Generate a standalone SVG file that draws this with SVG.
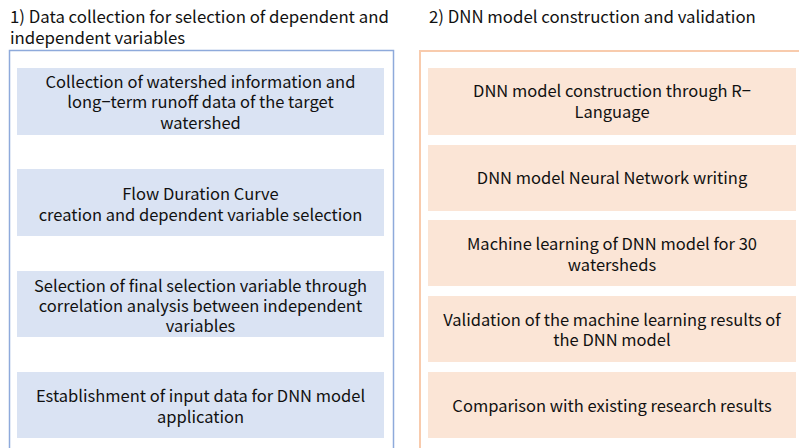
<svg xmlns="http://www.w3.org/2000/svg" width="799" height="448" viewBox="0 0 799 448">
  <style>
    text { font-family: "Noto Sans CJK KR", "Noto Sans", sans-serif; fill: #111; }
    .title { font-size: 16.8px; }
    .lbl { font-size: 16.5px; text-anchor: middle; }
    .frameL { fill: #fff; stroke: #8eaadb; stroke-width: 1.5; }
    .frameR { fill: #fff; stroke: #f8cbad; stroke-width: 2; }
    .boxL { fill: #dae3f3; }
    .boxR { fill: #fbe5d6; }
  </style>
  <rect width="799" height="448" fill="#fff"/>

  <!-- section headings -->
  <text class="title" x="10" y="23">1) Data collection for selection of dependent and</text>
  <text class="title" x="10" y="43.5">independent variables</text>
  <text class="title" x="429" y="23">2) DNN model construction and validation</text>

  <!-- section frames -->
  <rect class="frameL" x="9.5" y="50.5" width="384" height="410"/>
  <rect class="frameR" x="420" y="51" width="400" height="410"/>

  <!-- left column -->
  <g id="collect">
    <rect class="boxL" x="17" y="68" width="367" height="67"/>
    <text class="lbl" x="200.5" y="87.5">Collection of watershed information and</text>
    <text class="lbl" x="200.5" y="108">long−term runoff data of the target</text>
    <text class="lbl" x="200.5" y="128.5">watershed</text>
  </g>
  <g id="fdc">
    <rect class="boxL" x="17" y="169" width="367" height="67"/>
    <text class="lbl" x="200.5" y="200">Flow Duration Curve</text>
    <text class="lbl" x="200.5" y="220.5">creation and dependent variable selection</text>
  </g>
  <g id="select">
    <rect class="boxL" x="17" y="271" width="367" height="66"/>
    <text class="lbl" x="200.5" y="291.5">Selection of final selection variable through</text>
    <text class="lbl" x="200.5" y="311.5">correlation analysis between independent</text>
    <text class="lbl" x="200.5" y="331.5">variables</text>
  </g>
  <g id="input">
    <rect class="boxL" x="17" y="372" width="367" height="66"/>
    <text class="lbl" x="200.5" y="402">Establishment of input data for DNN model</text>
    <text class="lbl" x="200.5" y="422.5">application</text>
  </g>

  <!-- right column -->
  <g id="build">
    <rect class="boxR" x="428" y="68" width="368" height="67"/>
    <text class="lbl" x="612" y="97">DNN model construction through R−</text>
    <text class="lbl" x="612" y="117.5">Language</text>
  </g>
  <g id="network">
    <rect class="boxR" x="428" y="145" width="368" height="66"/>
    <text class="lbl" x="612" y="184">DNN model Neural Network writing</text>
  </g>
  <g id="train">
    <rect class="boxR" x="428" y="220" width="368" height="66"/>
    <text class="lbl" x="612" y="250">Machine learning of DNN model for 30</text>
    <text class="lbl" x="612" y="270.5">watersheds</text>
  </g>
  <g id="validate">
    <rect class="boxR" x="428" y="296" width="368" height="66"/>
    <text class="lbl" x="612" y="325.5">Validation of the machine learning results of</text>
    <text class="lbl" x="612" y="345.5">the DNN model</text>
  </g>
  <g id="compare">
    <rect class="boxR" x="428" y="372" width="368" height="66"/>
    <text class="lbl" x="612" y="411.5">Comparison with existing research results</text>
  </g>

  <g id="connectors"/>
</svg>
